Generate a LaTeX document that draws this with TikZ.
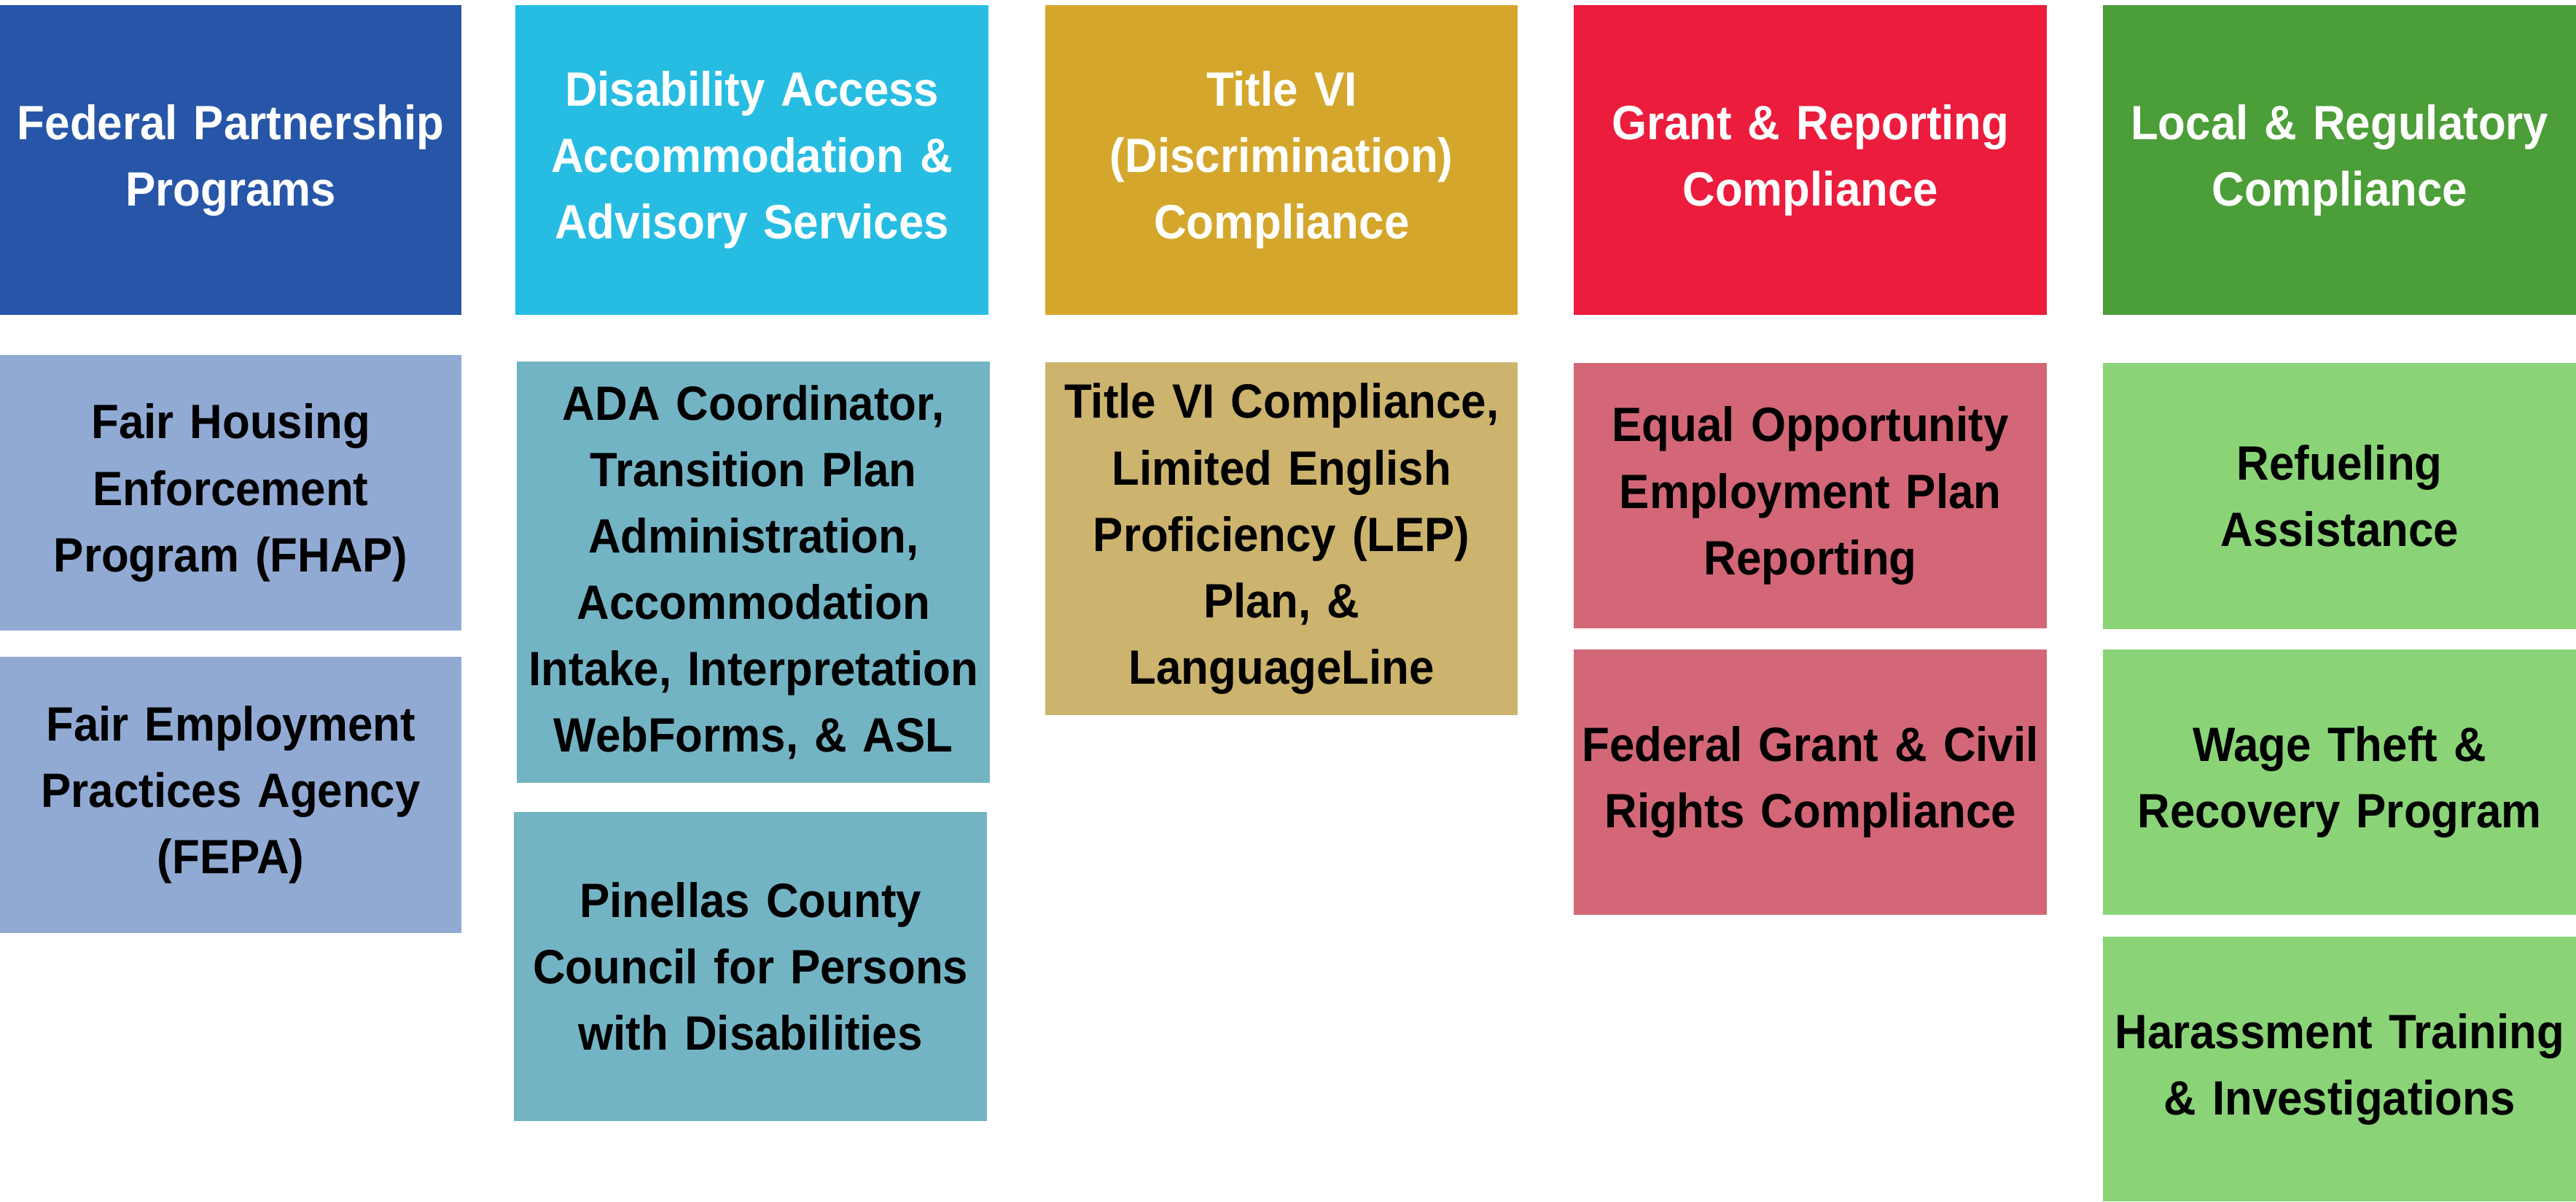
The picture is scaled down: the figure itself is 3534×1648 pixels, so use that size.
\documentclass[tikz,border=0pt]{standalone}
\usepackage{fontspec}
\setmainfont{Liberation Sans}[FakeStretch=0.935]
% category colours (headers) and their lighter service-box tints
\definecolor{fedH}{HTML}{2756A8}
\definecolor{fedL}{HTML}{91AAD4}
\definecolor{disH}{HTML}{27BDE2}
\definecolor{disL}{HTML}{73B4C4}
\definecolor{titH}{HTML}{D4A72C}
\definecolor{titL}{HTML}{CCB46E}
\definecolor{grnH}{HTML}{EC1C3D}
\definecolor{grnL}{HTML}{D36777}
\definecolor{locH}{HTML}{4C9E38}
\definecolor{locL}{HTML}{8AD477}
\begin{document}
\begin{tikzpicture}[x=0.01cm,y=-0.01cm,
  cell/.style={anchor=north west, inner sep=0pt, outer sep=0pt, align=center,
    font=\fontsize{18.8}{25.9}\selectfont\bfseries},
  head/.style={cell, text=white},
  item/.style={cell, text=black},
  sz/.style 2 args={minimum width=#1cm, text width=#1cm, minimum height=#2cm}]
\useasboundingbox (0,0) rectangle (3534,1648);

% column headers
\node[head, fill=fedH, sz={6.33}{4.25}] (fed) at (0,7) {Federal Partnership\\Programs};
\node[head, fill=disH, sz={6.49}{4.25}] (dis) at (707,7) {Disability Access\\Accommodation \&\\Advisory Services};
\node[head, fill=titH, sz={6.48}{4.25}] (tit) at (1434,7) {Title VI\\(Discrimination)\\Compliance};
\node[head, fill=grnH, sz={6.49}{4.25}] (grn) at (2159,7) {Grant \& Reporting\\Compliance};
\node[head, fill=locH, sz={6.49}{4.25}] (loc) at (2885,7) {Local \& Regulatory\\Compliance};

% federal partnership programs
\node[item, fill=fedL, sz={6.33}{3.78}] (fhap) at (0,487) {Fair Housing\\Enforcement\\Program (FHAP)};
\node[item, fill=fedL, sz={6.33}{3.79}] (fepa) at (0,901) {Fair Employment\\Practices Agency\\(FEPA)};

% disability access services
\node[item, fill=disL, sz={6.49}{5.78}] (ada) at (709,496) {ADA Coordinator,\\Transition Plan\\Administration,\\Accommodation\\Intake, Interpretation\\WebForms, \& ASL};
\node[item, fill=disL, sz={6.49}{4.24}] (pin) at (705,1114) {Pinellas County\\Council for Persons\\with Disabilities};

% title VI
\node[item, fill=titL, sz={6.48}{4.84}] (lep) at (1434,497) {Title VI Compliance,\\Limited English\\Proficiency (LEP)\\Plan, \&\\LanguageLine};

% grant and reporting
\node[item, fill=grnL, sz={6.49}{3.64}] (eeo) at (2159,498) {Equal Opportunity\\Employment Plan\\Reporting};
\node[item, fill=grnL, sz={6.49}{3.64}] (fgc) at (2159,891) {Federal Grant \& Civil\\Rights Compliance};

% local and regulatory
\node[item, fill=locL, sz={6.49}{3.65}] (ref) at (2885,498) {Refueling\\Assistance};
\node[item, fill=locL, sz={6.49}{3.64}] (wage) at (2885,891) {Wage Theft \&\\Recovery Program};
\node[item, fill=locL, sz={6.49}{3.63}] (har) at (2885,1285) {Harassment Training\\\& Investigations};
\end{tikzpicture}
\end{document}
